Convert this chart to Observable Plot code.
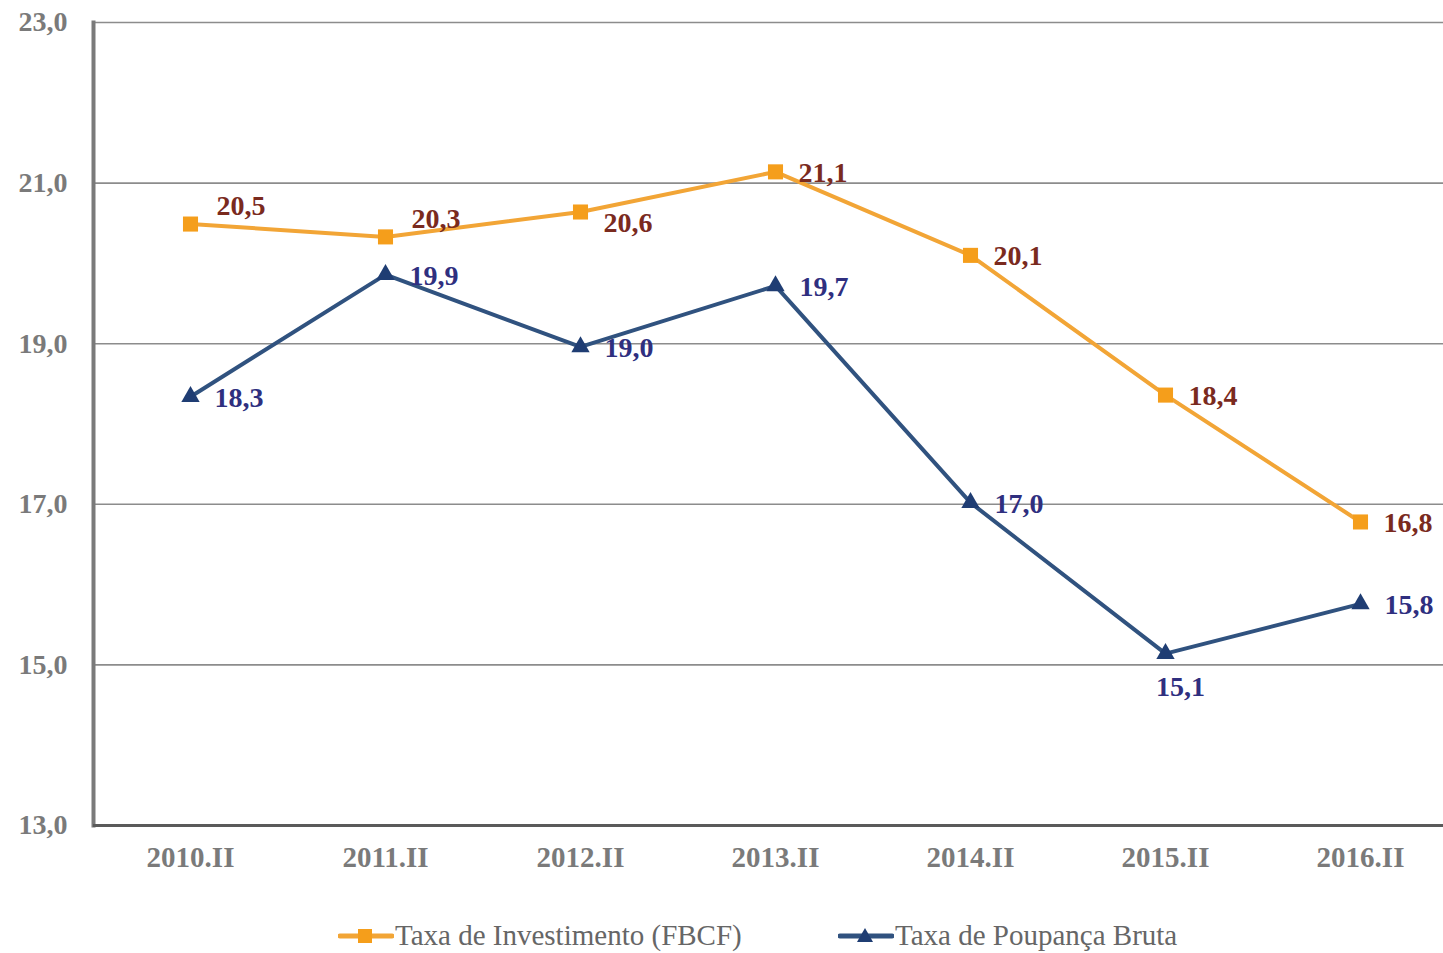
<!DOCTYPE html>
<html><head><meta charset="utf-8">
<script src="https://cdn.jsdelivr.net/npm/d3@7"></script>
<script src="https://cdn.jsdelivr.net/npm/@observablehq/plot@0.6"></script>
<style>
body{margin:0;background:#fff;}
#legend{position:relative;height:58px;font-family:"Liberation Serif",serif;font-size:29px;color:#666;}
.item{position:absolute;top:26px;display:flex;align-items:center;white-space:nowrap;line-height:1;}
.item svg{margin-right:1px;}
</style></head><body><div id="chart"></div><div id="legend"></div>
<script>
const periods = ["2010.II","2011.II","2012.II","2013.II","2014.II","2015.II","2016.II"];
const investimento = [20.49, 20.33, 20.64, 21.14, 20.10, 18.36, 16.78];
const poupanca = [18.34, 19.86, 18.96, 19.72, 17.02, 15.14, 15.76];
const investLabelPos = ["above","above","below","right","right","right","right"];
const poupLabelPos = ["right","right","right","right","right","below","right"];
const yTicks = [13, 15, 17, 19, 21, 23];
const seriesNames = ["Taxa de Investimento (FBCF)", "Taxa de Poupança Bruta"];

const orange = "#F59E1B", orangeLine = "#F2A536", orangeText = "#7A2A1E";
const blue = "#1F3D73", blueLine = "#30527F", blueText = "#2F2F7F";
const fmt = d => d.toFixed(1).replace(".", ",");

const inv = periods.map((p, i) => ({period: p, value: investimento[i], pos: investLabelPos[i]}));
const pou = periods.map((p, i) => ({period: p, value: poupanca[i], pos: poupLabelPos[i]}));
const lbl = {fontFamily: "Liberation Serif", fontSize: 28, fontWeight: "bold"};

const chart = Plot.plot({
  width: 1443, height: 895,
  marginTop: 22, marginBottom: 70, marginLeft: 93, marginRight: 0,
  style: {fontFamily: "Liberation Serif", background: "#fff"},
  x: {type: "point", domain: periods, range: [190, 1360], padding: 0},
  y: {domain: [13, 23]},
  marks: [
    Plot.ruleY(yTicks.filter(d => d > 13), {stroke: "#8c8c8c", strokeWidth: 1.6}),
    Plot.frame({anchor: "left", stroke: "#7a7a7a", strokeWidth: 4}),
    Plot.ruleY([13], {stroke: "#5a5a5a", strokeWidth: 3}),
    Plot.axisY(yTicks, {tickSize: 0, tickPadding: 26, tickFormat: fmt, label: null,
      fill: "#7a7a7a", fontSize: 28, fontWeight: "bold"}),
    Plot.axisX(periods, {tickSize: 0, tickPadding: 21, label: null,
      fill: "#7a7a7a", fontSize: 29, fontWeight: "bold"}),
    Plot.line(inv, {x: "period", y: "value", stroke: orangeLine, strokeWidth: 4}),
    Plot.line(pou, {x: "period", y: "value", stroke: blueLine, strokeWidth: 4}),
    Plot.dot(inv, {x: "period", y: "value", symbol: "square", r: 8.5, fill: orange}),
    Plot.dot(pou, {x: "period", y: "value", symbol: "triangle", r: 6.8, fill: blue}),
    Plot.text(inv.filter(d => d.pos === "above"), {x: "period", y: "value", text: d => fmt(d.value), dx: 26, dy: -18, textAnchor: "start", fill: orangeText, ...lbl}),
    Plot.text(inv.filter(d => d.pos === "below"), {x: "period", y: "value", text: d => fmt(d.value), dx: 23, dy: 11, textAnchor: "start", fill: orangeText, ...lbl}),
    Plot.text(inv.filter(d => d.pos === "right"), {x: "period", y: "value", text: d => fmt(d.value), dx: 23, dy: 1, textAnchor: "start", fill: orangeText, ...lbl}),
    Plot.text(pou.filter(d => d.pos === "right"), {x: "period", y: "value", text: d => fmt(d.value), dx: 24, dy: 1, textAnchor: "start", fill: blueText, ...lbl}),
    Plot.text(pou.filter(d => d.pos === "below"), {x: "period", y: "value", text: d => fmt(d.value), dx: 15, dy: 33, textAnchor: "middle", fill: blueText, ...lbl})
  ]
});
document.getElementById("chart").appendChild(chart);

const legend = document.getElementById("legend");
const items = [
  {name: seriesNames[0], line: orangeLine, fill: orange, shape: "square", left: 338},
  {name: seriesNames[1], line: blueLine, fill: blue, shape: "triangle", left: 838}
];
for (const it of items) {
  const div = document.createElement("div");
  div.className = "item";
  div.style.left = it.left + "px";
  const marker = it.shape === "square"
    ? `<rect x="20" y="3" width="14" height="14" fill="${it.fill}"/>`
    : `<path d="M27,2 L35,16 L19,16 Z" fill="${it.fill}"/>`;
  div.innerHTML = `<svg width="56" height="20"><line x1="2" y1="10" x2="54" y2="10" stroke="${it.line}" stroke-width="5" stroke-linecap="round"/>${marker}</svg><span>${it.name}</span>`;
  legend.appendChild(div);
}
</script></body></html>
